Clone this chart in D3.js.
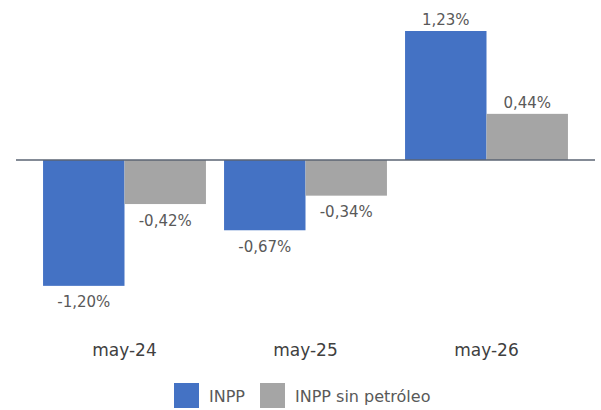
<!DOCTYPE html>
<html><head><meta charset="utf-8">
<script src="https://cdn.jsdelivr.net/npm/d3@7"></script>
<style>body{margin:0;background:#fff;} svg{display:block;font-family:"DejaVu Sans",sans-serif;}</style>
</head><body><svg id="c" width="601" height="410"></svg>
<script>
const categories = ["may-24", "may-25", "may-26"];
const seriesNames = ["INPP", "INPP sin petróleo"];
const inpp = [-1.20, -0.67, 1.23];
const inppSinPetroleo = [-0.42, -0.34, 0.44];
const colors = ["#4472C4", "#A5A5A5"];

const svg = d3.select("#c");
const x = d3.scaleBand().domain(categories).range([34, 577]).paddingInner(0.1).paddingOuter(0.05);
const xs = d3.scaleBand().domain(seriesNames).range([0, x.bandwidth()]);
const y = d3.scaleLinear().domain([0, 1.23]).range([160, 31]);
const fmt = v => (v < 0 ? "-" : "") + Math.abs(v).toFixed(2).replace(".", ",") + "%";

const data = categories.map((c, i) => ({c, vals: [inpp[i], inppSinPetroleo[i]]}));
const g = svg.selectAll("g.grp").data(data).join("g").attr("class","grp")
  .attr("transform", d => `translate(${x(d.c)},0)`);
g.selectAll("rect").data(d => d.vals.map((v, j) => ({v, s: seriesNames[j], j}))).join("rect")
  .attr("x", d => xs(d.s)).attr("width", xs.bandwidth())
  .attr("y", d => Math.min(y(d.v), y(0))).attr("height", d => Math.abs(y(d.v) - y(0)))
  .attr("fill", d => colors[d.j]);
g.selectAll("text").data(d => d.vals.map((v, j) => ({v, s: seriesNames[j], j}))).join("text")
  .attr("x", d => xs(d.s) + xs.bandwidth()/2)
  .attr("y", d => d.v >= 0 ? y(d.v) - 6 : y(d.v) + 21.5)
  .attr("text-anchor", "middle").attr("font-size", 15).attr("fill", "#595959")
  .text(d => fmt(d.v));

svg.append("line").attr("x1", 16).attr("x2", 595).attr("y1", y(0)).attr("y2", y(0))
  .attr("stroke", "#5B6573").attr("stroke-width", 1.5);

const xAxis = d3.axisBottom(x).tickSize(0).tickPadding(0);
const ax = svg.append("g").attr("transform", "translate(0,342)").call(xAxis);
ax.select(".domain").remove();
ax.selectAll("text").attr("font-size", 17).attr("fill", "#404040")
  .attr("font-family", "'DejaVu Sans', sans-serif").attr("dy", "0.85em");

const legendX = [174, 260];
const lg = svg.selectAll("g.lg").data(seriesNames).join("g").attr("class","lg")
  .attr("transform", (d, i) => `translate(${legendX[i]},383)`);
lg.append("rect").attr("width", 25).attr("height", 25).attr("fill", (d, i) => colors[i]);
lg.append("text").attr("x", 35).attr("y", 19).attr("font-size", 16).attr("fill", "#595959").text(d => d);
</script></body></html>
